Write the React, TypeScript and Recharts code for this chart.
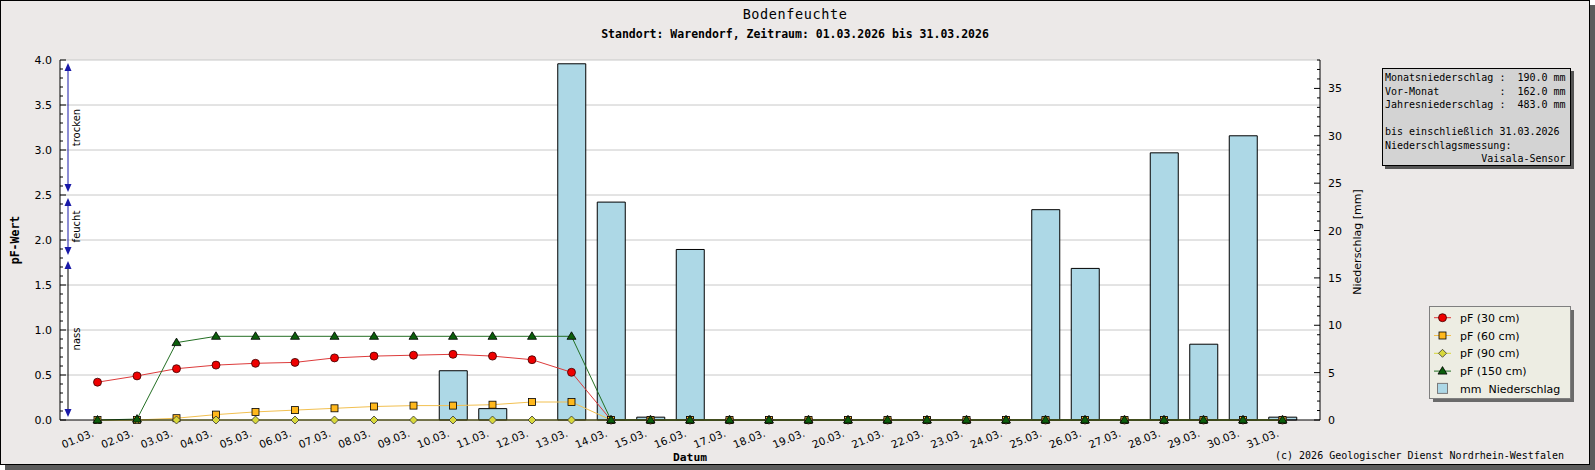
import React from 'react';
import { ComposedChart, Bar, Line, XAxis, YAxis, CartesianGrid } from 'recharts';

// ---- data ----
const days = [
  '01.03.', '02.03.', '03.03.', '04.03.', '05.03.', '06.03.', '07.03.', '08.03.', '09.03.', '10.03.',
  '11.03.', '12.03.', '13.03.', '14.03.', '15.03.', '16.03.', '17.03.', '18.03.', '19.03.', '20.03.',
  '21.03.', '22.03.', '23.03.', '24.03.', '25.03.', '26.03.', '27.03.', '28.03.', '29.03.', '30.03.', '31.03.',
];

const pf30 = [
  0.42, 0.49, 0.57, 0.61, 0.63, 0.64, 0.69, 0.71, 0.72, 0.73, 0.71, 0.67, 0.53, 0,
  0, 0, 0, 0, 0, 0, 0, 0, 0, 0, 0, 0, 0, 0, 0, 0, 0,
];
const pf60 = [
  0, 0, 0.02, 0.06, 0.09, 0.11, 0.13, 0.15, 0.16, 0.16, 0.17, 0.2, 0.2, 0,
  0, 0, 0, 0, 0, 0, 0, 0, 0, 0, 0, 0, 0, 0, 0, 0, 0,
];
const pf90 = [
  0, 0, 0, 0, 0, 0, 0, 0, 0, 0, 0, 0, 0, 0,
  0, 0, 0, 0, 0, 0, 0, 0, 0, 0, 0, 0, 0, 0, 0, 0, 0,
];
const pf150 = [
  0, 0.01, 0.86, 0.93, 0.93, 0.93, 0.93, 0.93, 0.93, 0.93, 0.93, 0.93, 0.93, 0,
  0, 0, 0, 0, 0, 0, 0, 0, 0, 0, 0, 0, 0, 0, 0, 0, 0,
];
const rain = [
  0, 0, 0, 0, 0, 0, 0, 0, 0, 5.2, 1.2, 0, 37.6, 23.0, 0.3, 18.0,
  0, 0, 0, 0, 0, 0, 0, 0, 22.2, 16.0, 0, 28.2, 8.0, 30.0, 0.3,
];

const pfTicks = Array.from({ length: 41 }, (_, i) => i / 10);
const pfGrid = [0.5, 1, 1.5, 2, 2.5, 3, 3.5, 4];
const rainTicks = Array.from({ length: 39 }, (_, i) => i);

const zones = [
  { name: 'trocken', from: 2.5, to: 4.0, line: '#1a1aa8' },
  { name: 'feucht', from: 1.8, to: 2.5, line: '#1a1aa8' },
  { name: 'nass', from: 0, to: 1.8, line: '#000000' },
];

const infoLines = [
  'Monatsniederschlag :  190.0 mm',
  'Vor-Monat          :  162.0 mm',
  'Jahresniederschlag :  483.0 mm',
  '',
  'bis einschließlich 31.03.2026',
  'Niederschlagsmessung:',
  '                Vaisala-Sensor',
];

const series = [
  { key: 'pf30', label: 'pF (30 cm)', shape: 'circle', fill: '#ee0000', line: '#dd3b3b' },
  { key: 'pf60', label: 'pF (60 cm)', shape: 'square', fill: '#ffb81c', line: '#f2c050' },
  { key: 'pf90', label: 'pF (90 cm)', shape: 'diamond', fill: '#d8d83a', line: '#d8d83a' },
  { key: 'pf150', label: 'pF (150 cm)', shape: 'triangle', fill: '#0b5e0b', line: '#236f23' },
];

const rows = days.map((day, i) => ({
  day,
  pf30: pf30[i],
  pf60: pf60[i],
  pf90: pf90[i],
  pf150: pf150[i],
  rain: rain[i],
}));

// ---- layout ----
const W = 1590;
const H = 465;
const PLOT_TOP = 60;
const PLOT_BOTTOM = 420;
const PF_MAX = 4;
const yPf = (v: number) => PLOT_TOP + (PLOT_BOTTOM - PLOT_TOP) * (1 - v / PF_MAX);

const SANS = 'DejaVu Sans, sans-serif';
const MONO = 'DejaVu Sans Mono, monospace';

const Marker = ({ cx, cy, shape, fill }: any) => {
  if (cx == null || cy == null) return null;
  if (shape === 'circle') return <circle cx={cx} cy={cy} r={4} fill={fill} stroke="#3a0000" strokeWidth={0.8} />;
  if (shape === 'square')
    return <rect x={cx - 3.5} y={cy - 3.5} width={7} height={7} fill={fill} stroke="#000" strokeWidth={0.8} />;
  if (shape === 'diamond')
    return (
      <polygon
        points={`${cx},${cy - 4} ${cx + 4},${cy} ${cx},${cy + 4} ${cx - 4},${cy}`}
        fill={fill}
        stroke="#333"
        strokeWidth={0.8}
      />
    );
  return (
    <polygon
      points={`${cx},${cy - 4.5} ${cx + 4.5},${cy + 3} ${cx - 4.5},${cy + 3}`}
      fill={fill}
      stroke="#000"
      strokeWidth={0.8}
    />
  );
};

const XTick = ({ x, y, payload }: any) => {
  const ax = x - 3;
  const ay = y + 16;
  return (
    <text x={ax} y={ay} transform={`rotate(-22 ${ax} ${ay})`} textAnchor="end" fontSize={10.5} fontFamily={SANS} fill="#000">
      {payload.value}
    </text>
  );
};

const PfTick = ({ x, y, payload }: any) => {
  const major = Math.round(payload.value * 10) % 5 === 0;
  return (
    <g>
      <line x1={x} x2={x + (major ? 6 : 3)} y1={y} y2={y} stroke="#000" />
      {major && (
        <text x={x - 8} y={y + 4} textAnchor="end" fontSize={11} fontFamily={SANS} fill="#000">
          {payload.value.toFixed(1)}
        </text>
      )}
    </g>
  );
};

const RainTick = ({ x, y, payload }: any) => {
  const major = payload.value % 5 === 0;
  return (
    <g>
      <line x1={x} x2={x - (major ? 6 : 3)} y1={y} y2={y} stroke="#000" />
      {major && (
        <text x={x + 8} y={y + 4} textAnchor="start" fontSize={11} fontFamily={SANS} fill="#000">
          {payload.value}
        </text>
      )}
    </g>
  );
};

const ZoneArrows = () => {
  const ax = 68;
  const blue = '#1a1aa8';
  return (
    <g>
      {zones.map((z) => {
        const top = yPf(z.to) + 3;
        const bot = yPf(z.from) - 3;
        const mid = (yPf(z.to) + yPf(z.from)) / 2;
        return (
          <g key={z.name}>
            <line x1={ax} x2={ax} y1={top + 4} y2={bot - 4} stroke={z.line} strokeWidth={1} />
            <polygon points={`${ax},${top} ${ax + 3.5},${top + 8} ${ax - 3.5},${top + 8}`} fill={blue} />
            <polygon points={`${ax},${bot} ${ax + 3.5},${bot - 8} ${ax - 3.5},${bot - 8}`} fill={blue} />
            <text
              x={ax + 12}
              y={mid}
              transform={`rotate(-90 ${ax + 12} ${mid})`}
              textAnchor="middle"
              fontSize={10}
              fontFamily={SANS}
              fill="#000"
            >
              {z.name}
            </text>
          </g>
        );
      })}
    </g>
  );
};

const LegendBox = () => {
  const x0 = 1429;
  const y0 = 306;
  const rowY = (i: number) => y0 + 11.7 + i * 17.8;
  return (
    <g>
      <rect x={x0 + 4} y={y0 + 4} width={141} height={92} fill="#6a6a6a" />
      <rect x={x0 + 0.5} y={y0 + 0.5} width={141} height={92} fill="#edede3" stroke="#7f7f7f" />
      {series.map((s, i) => (
        <g key={s.key}>
          <line x1={x0 + 5} x2={x0 + 22} y1={rowY(i)} y2={rowY(i)} stroke={s.line} />
          <Marker cx={x0 + 13.5} cy={rowY(i)} shape={s.shape} fill={s.fill} />
          <text x={x0 + 31} y={rowY(i) + 4} fontSize={11} fontFamily={SANS} fill="#000">
            {s.label}
          </text>
        </g>
      ))}
      <rect x={x0 + 8.5} y={rowY(4) - 5.5} width={10} height={10} fill="#add8e6" stroke="#7a7a7a" />
      <text x={x0 + 31} y={rowY(4) + 4} fontSize={11} fontFamily={SANS} fill="#000" style={{ whiteSpace: 'pre' }}>
        {'mm  Niederschlag'}
      </text>
    </g>
  );
};

export default function App() {
  return (
    <div style={{ position: 'absolute', left: 0, top: 0, width: 1595, height: 470 }}>
      <div
        style={{
          position: 'absolute',
          left: 0,
          top: 0,
          width: W,
          height: H,
          boxSizing: 'border-box',
          border: '1px solid #000',
          background: '#ECE9E8',
          boxShadow: '5px 5px 0 #5c5c5c',
        }}
      />
      <div style={{ position: 'absolute', left: 0, top: 0 }}>
        <ComposedChart width={W} height={H - 1} data={rows} margin={{ top: PLOT_TOP, right: 0, bottom: 0, left: 0 }}>
          <CartesianGrid yAxisId="pf" vertical={false} horizontalValues={pfGrid} stroke="#c8c8c8" fill="#fff" />
          <XAxis
            dataKey="day"
            height={44}
            interval={0}
            tickSize={0}
            tickMargin={0}
            tickLine={false}
            padding={{ left: 17.75, right: 17.75 }}
            axisLine={{ stroke: '#000' }}
            tick={(p: any) => <XTick {...p} />}
          />
          <YAxis
            yAxisId="pf"
            orientation="left"
            width={60}
            domain={[0, PF_MAX]}
            ticks={pfTicks}
            interval={0}
            tickSize={0}
            tickMargin={0}
            tickLine={false}
            axisLine={{ stroke: '#000' }}
            tick={(p: any) => <PfTick {...p} />}
          />
          <YAxis
            yAxisId="rain"
            orientation="right"
            width={W - 1320}
            domain={[0, 38]}
            ticks={rainTicks}
            interval={0}
            tickSize={0}
            tickMargin={0}
            tickLine={false}
            axisLine={{ stroke: '#000' }}
            tick={(p: any) => <RainTick {...p} />}
          />
          <Bar
            yAxisId="rain"
            dataKey="rain"
            barSize={28}
            fill="#add8e6"
            stroke="#000"
            strokeWidth={1}
            isAnimationActive={false}
          />
          {series.map((s) => (
            <Line
              key={s.key}
              yAxisId="pf"
              type="linear"
              dataKey={s.key}
              stroke={s.line}
              strokeWidth={1}
              isAnimationActive={false}
              dot={(p: any) => <Marker key={`${s.key}-${p.index}`} cx={p.cx} cy={p.cy} shape={s.shape} fill={s.fill} />}
              activeDot={false}
            />
          ))}
        </ComposedChart>
      </div>
      <svg width={1595} height={470} style={{ position: 'absolute', left: 0, top: 0, pointerEvents: 'none' }}>
        <text x={795} y={18.5} textAnchor="middle" fontSize={13.5} letterSpacing={0.6} fontFamily={MONO} fill="#000">
          Bodenfeuchte
        </text>
        <text x={795} y={37.5} textAnchor="middle" fontSize={11.5} fontWeight="bold" fontFamily={MONO} fill="#000">
          Standort: Warendorf, Zeitraum: 01.03.2026 bis 31.03.2026
        </text>
        <text
          x={19}
          y={240}
          transform="rotate(-90 19 240)"
          textAnchor="middle"
          fontSize={11.5}
          fontWeight="bold"
          fontFamily={MONO}
          fill="#000"
        >
          pF-Wert
        </text>
        <text
          x={1361}
          y={242}
          transform="rotate(-90 1361 242)"
          textAnchor="middle"
          fontSize={11}
          fontFamily={SANS}
          fill="#000"
        >
          Niederschlag [mm]
        </text>
        <text x={690} y={461} textAnchor="middle" fontSize={11.3} fontWeight="bold" fontFamily={MONO} fill="#000">
          Datum
        </text>
        <text x={1275} y={458.5} fontSize={10} fontFamily={MONO} fill="#000">
          (c) 2026 Geologischer Dienst Nordrhein-Westfalen
        </text>
        <ZoneArrows />
        <LegendBox />
      </svg>
      <div
        style={{
          position: 'absolute',
          left: 1382,
          top: 68,
          width: 189,
          height: 98,
          boxSizing: 'border-box',
          border: '1px solid #000',
          background: '#d3d3d3',
          boxShadow: '3px 3px 0 #555',
          padding: '2px 0 0 2px',
          fontFamily: MONO,
          fontSize: 10,
          lineHeight: '13.5px',
          whiteSpace: 'pre',
          color: '#000',
        }}
      >
        {infoLines.join('\n')}
      </div>
    </div>
  );
}
